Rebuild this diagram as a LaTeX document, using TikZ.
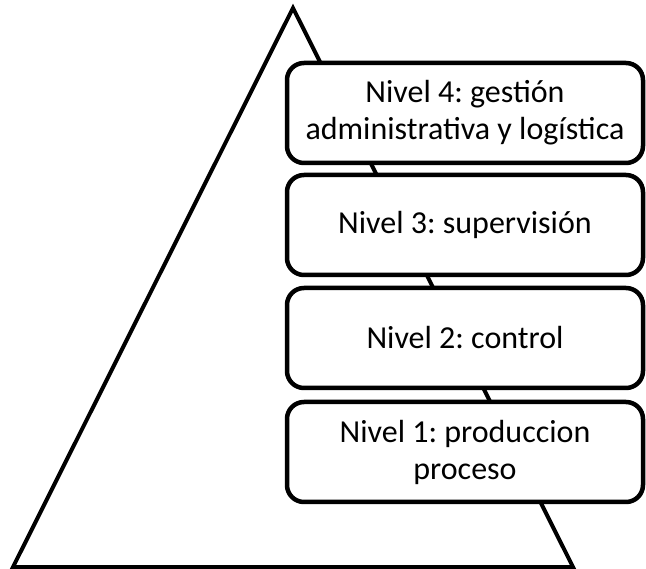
\documentclass[tikz,border=0pt]{standalone}
\usepackage{fontspec}
\setmainfont{Carlito}
\frenchspacing
\begin{document}
\begin{tikzpicture}[x=1pt,y=-1pt,
  level/.style={draw=black, line width=4.5pt, fill=white, rounded corners=17pt,
    minimum width=356pt, minimum height=100pt, inner sep=0pt, align=center,
    font=\fontsize{32}{37}\selectfont}]
\useasboundingbox (0,0) rectangle (646,569);
\coordinate (apex) at (293,8);
\coordinate (bl) at (13,567);
\coordinate (br) at (573,567);
\draw[line width=4pt, line join=miter] (apex) -- (br) -- (bl) -- cycle;
\node[level] (n4) at (465,113) {Nivel 4: gestión\\administrativa y logística};
\node[level] (n3) at (465,225) {Nivel 3: supervisión};
\node[level] (n2) at (465,338) {Nivel 2: control};
\node[level] (n1) at (465,452) {Nivel 1: produccion\\proceso};
\end{tikzpicture}
\end{document}
